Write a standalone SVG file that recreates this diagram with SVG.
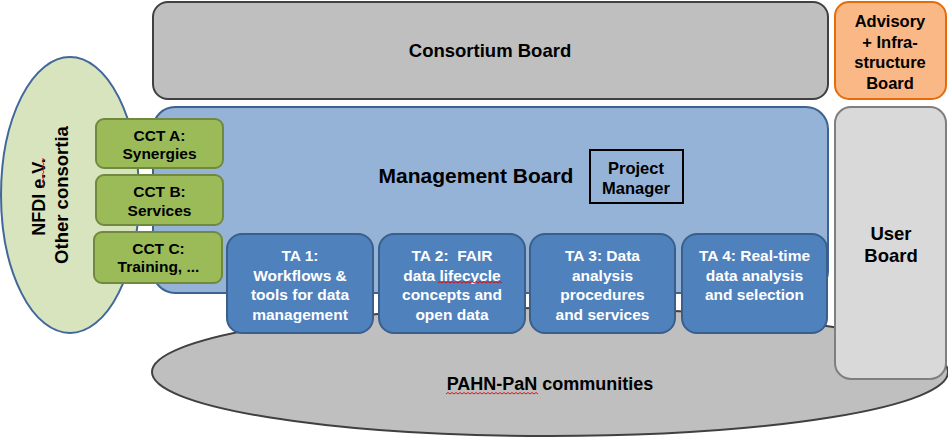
<svg xmlns="http://www.w3.org/2000/svg" width="948" height="439" viewBox="0 0 948 439">
<style>
text{font-family:"Liberation Sans",Arial,sans-serif;font-weight:bold;text-anchor:middle;}
.dark{fill:#000;}
.white{fill:#fff;}
.ta rect{fill:#4f81bd;stroke:#3a5f8b;stroke-width:2;}
.cct rect{fill:#9bbb59;stroke:#71893f;stroke-width:2;}
.sq{fill:none;stroke:#e00000;stroke-width:0.9;}
</style>
<g id="community">
<ellipse cx="550" cy="372" rx="398" ry="64" fill="#bfbfbf" stroke="#404040" stroke-width="2"/>
<text x="550" y="390" font-size="18" class="dark">PAHN-PaN communities</text>
</g>
<g id="consortium-board">
<rect x="153" y="2" width="675" height="97" rx="15" fill="#bfbfbf" stroke="#404040" stroke-width="2"/>
<text x="490" y="57" font-size="18.5" class="dark">Consortium Board</text>
</g>
<g id="advisory-board">
<rect x="835" y="2" width="111" height="97" rx="14" fill="#f9b885" stroke="#e46c0a" stroke-width="2"/>
<text x="890" y="27" font-size="16.5" class="dark">Advisory</text>
<text x="890" y="47.5" font-size="16.5" class="dark">+ Infra-</text>
<text x="890" y="68" font-size="16.5" class="dark">structure</text>
<text x="890" y="88.5" font-size="16.5" class="dark">Board</text>
</g>
<g id="user-board">
<rect x="835" y="107" width="111" height="272" rx="16" fill="#d9d9d9" stroke="#7f7f7f" stroke-width="2"/>
<text x="891" y="239.5" font-size="18.5" class="dark">User</text>
<text x="891" y="262" font-size="18.5" class="dark">Board</text>
</g>
<g id="nfdi">
<ellipse cx="70" cy="195" rx="69" ry="138" fill="#d7e4bd" stroke="#41689c" stroke-width="2"/>
<text transform="translate(45,197) rotate(-90)" font-size="18" class="dark">NFDI e.V.</text>
<text transform="translate(68,195) rotate(-90)" font-size="18.5" class="dark">Other consortia</text>
</g>
<g id="management-board">
<rect x="153" y="107" width="675" height="186" rx="22" fill="#95b3d7" stroke="#3d6391" stroke-width="2"/>
<text x="476" y="183" font-size="21" class="dark">Management Board</text>
</g>
<g id="project-manager">
<rect x="590" y="150" width="93" height="53" fill="none" stroke="#000" stroke-width="2"/>
<text x="636" y="173.5" font-size="16.5" class="dark">Project</text>
<text x="636" y="194" font-size="16.5" class="dark">Manager</text>
</g>
<g id="cct-a" class="cct">
<rect x="96" y="119" width="127" height="49" rx="8"/>
<text x="159.5" y="140.5" font-size="15.5" class="dark">CCT A:</text>
<text x="159.5" y="158.5" font-size="15.5" class="dark">Synergies</text>
</g>
<g id="cct-b" class="cct">
<rect x="96" y="175" width="127" height="50" rx="8"/>
<text x="159.5" y="197" font-size="15.5" class="dark">CCT B:</text>
<text x="159.5" y="216" font-size="15.5" class="dark">Services</text>
</g>
<g id="cct-c" class="cct">
<rect x="94" y="232" width="128" height="51" rx="8"/>
<text x="158.5" y="253.5" font-size="15.5" class="dark">CCT C:</text>
<text x="158.5" y="272" font-size="15.5" class="dark">Training, ...</text>
</g>
<g id="ta1" class="ta">
<rect x="227" y="234" width="146" height="99" rx="15"/>
<text x="300" y="261" font-size="15.5" class="white">TA 1:</text>
<text x="300" y="280.5" font-size="15.5" class="white">Workflows &amp;</text>
<text x="300" y="300" font-size="15.5" class="white">tools for data</text>
<text x="300" y="319.5" font-size="15.5" class="white">management</text>
</g>
<g id="ta2" class="ta">
<rect x="379" y="234" width="146" height="99" rx="15"/>
<text x="452" y="261" font-size="15.5" class="white">TA 2:&#160; FAIR</text>
<text x="452" y="280.5" font-size="15.5" class="white">data lifecycle</text>
<text x="452" y="300" font-size="15.5" class="white">concepts and</text>
<text x="452" y="319.5" font-size="15.5" class="white">open data</text>
</g>
<g id="ta3" class="ta">
<rect x="530" y="234" width="145" height="99" rx="15"/>
<text x="602.5" y="261" font-size="15.5" class="white">TA 3: Data</text>
<text x="602.5" y="280.5" font-size="15.5" class="white">analysis</text>
<text x="602.5" y="300" font-size="15.5" class="white">procedures</text>
<text x="602.5" y="319.5" font-size="15.5" class="white">and services</text>
</g>
<g id="ta4" class="ta">
<rect x="682" y="234" width="145" height="99" rx="15"/>
<text x="754.5" y="261" font-size="15.5" class="white">TA 4: Real-time</text>
<text x="754.5" y="280.5" font-size="15.5" class="white">data analysis</text>
<text x="754.5" y="300" font-size="15.5" class="white">and selection</text>
</g>
<g id="connectors"></g>
<g id="spellcheck-marks">
<path class="sq" d="M44,188 l-1.5,-2 l1.5,-2 l-1.5,-2 l1.5,-2 l-1.5,-2 l1.5,-2 l-1.5,-2 l1.5,-2 l-1.5,-2 l1.5,-2 l-1.5,-2 l1.5,-2 l-1.5,-2 l1.5,-2 l-1.5,-2"/>
<path class="sq" d="M438,283 l2,-1.5 l2,1.5 l2,-1.5 l2,1.5 l2,-1.5 l2,1.5 l2,-1.5 l2,1.5 l2,-1.5 l2,1.5 l2,-1.5 l2,1.5 l2,-1.5 l2,1.5 l2,-1.5 l2,1.5 l2,-1.5 l2,1.5 l2,-1.5 l2,1.5 l2,-1.5 l2,1.5 l2,-1.5 l2,1.5 l2,-1.5 l2,1.5 l2,-1.5 l2,1.5 l2,-1.5 l2,1.5 l2,-1.5 l2,1.5"/>
<path class="sq" d="M446,394 l2,-1.5 l2,1.5 l2,-1.5 l2,1.5 l2,-1.5 l2,1.5 l2,-1.5 l2,1.5 l2,-1.5 l2,1.5 l2,-1.5 l2,1.5 l2,-1.5 l2,1.5 l2,-1.5 l2,1.5 l2,-1.5 l2,1.5 l2,-1.5 l2,1.5 l2,-1.5 l2,1.5 l2,-1.5 l2,1.5 l2,-1.5 l2,1.5 l2,-1.5 l2,1.5 l2,-1.5 l2,1.5 l2,-1.5 l2,1.5 l2,-1.5 l2,1.5 l2,-1.5 l2,1.5 l2,-1.5 l2,1.5 l2,-1.5 l2,1.5 l2,-1.5 l2,1.5 l2,-1.5 l2,1.5 l2,-1.5 l2,1.5"/>
</g>
</svg>
